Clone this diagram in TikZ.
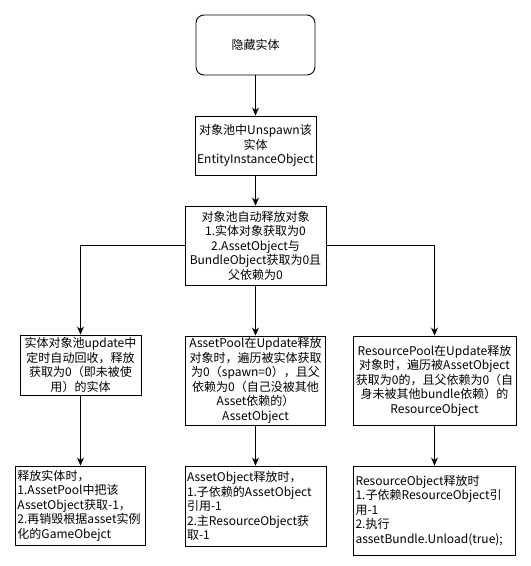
\documentclass[tikz,border=0pt]{standalone}
\usepackage{fontspec}
\setmainfont{Noto Sans CJK SC}
\usepackage{tikz}
\usetikzlibrary{arrows.meta, positioning}

\begin{document}
\begin{tikzpicture}[
  x=1bp, y=-1bp,
  flowbox/.style={draw, fill=white, line width=0.9bp, align=center, inner sep=0pt,
    font=\fontsize{12bp}{14.5bp}\selectfont},
  notebox/.style={flowbox, align=left, inner xsep=2bp},
  flowarr/.style={-{Stealth[length=8bp, width=7bp]}, line width=0.9bp}
]
  \useasboundingbox (0,0) rectangle (531,566);

  % top row
  \node[flowbox, rounded corners=8bp, minimum width=119bp, minimum height=60bp] (hide) at (255.5,45) {隐藏实体};
  \node[flowbox, minimum width=121bp, minimum height=59bp] (unspawn) at (255.5,145.5) {对象池中Unspawn该\\实体\\EntityInstanceObject};
  \node[flowbox, minimum width=141bp, minimum height=79bp] (autorel) at (255.5,245.5) {对象池自动释放对象\\1.实体对象获取为0\\2.AssetObject与\\BundleObject获取为0且\\父依赖为0};

  % pools
  \node[flowbox, minimum width=121bp, minimum height=60bp] (entpool) at (80.5,365) {实体对象池update中\\定时自动回收，释放\\获取为0（即未被使\\用）的实体};
  \node[flowbox, minimum width=140bp, minimum height=89bp] (assetpool) at (255.5,380.5) {AssetPool在Update释放\\对象时，遍历被实体获取\\为0（spawn=0），且父\\依赖为0（自己没被其他\\Asset依赖的）\\AssetObject};
  \node[flowbox, minimum width=163bp, minimum height=89bp] (respool) at (434.5,380.5) {ResourcePool在Update释放\\对象时，遍历被AssetObject\\获取为0的，且父依赖为0（自\\身未被其他bundle依赖）的\\ResourceObject};

  % release notes
  \node[notebox, text width=126bp, minimum height=79bp] (entrel) at (80.5,505.5) {释放实体时，\\1.AssetPool中把该\\AssetObject获取-1，\\2.再销毁根据asset实例\\化的GameObejct};
  \node[notebox, text width=137bp, minimum height=80bp] (assetrel) at (255.5,506) {AssetObject释放时，\\1.子依赖的AssetObject\\引用-1\\2.主ResourceObject获\\取-1};
  \node[notebox, text width=158bp, minimum height=89bp] (resrel) at (434.5,510.5) {ResourceObject释放时\\1.子依赖ResourceObject引\\用-1\\2.执行\\assetBundle.Unload(true);};

  \draw[flowarr] (hide) -- (unspawn);
  \draw[flowarr] (unspawn) -- (autorel);
  \draw[flowarr] (autorel) -- (assetpool);
  \draw[flowarr] (autorel.west) -| (entpool);
  \draw[flowarr] (autorel.east) -| (respool);
  \draw[flowarr] (entpool) -- (entrel);
  \draw[flowarr] (assetpool) -- (assetrel);
  \draw[flowarr] (respool) -- (resrel);
\end{tikzpicture}
\end{document}
